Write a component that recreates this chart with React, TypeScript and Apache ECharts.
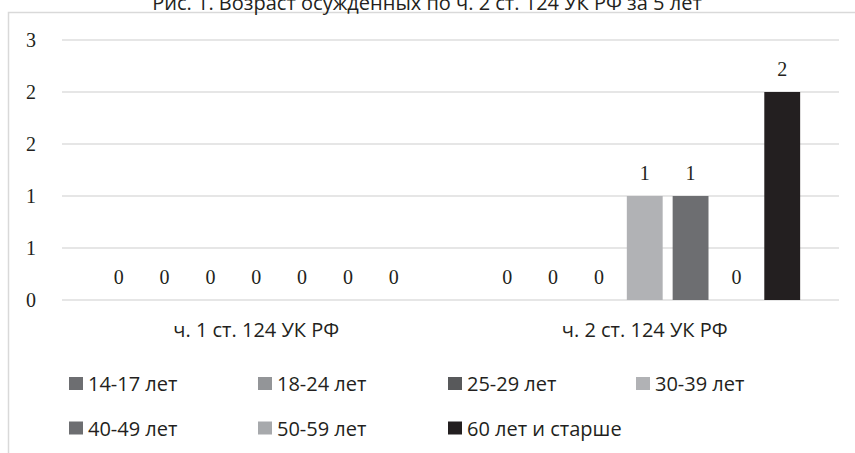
import React, { useEffect, useRef } from "react";
import * as echarts from "echarts";

const TITLE = "Рис. 1. Возраст осужденных по ч. 2 ст. 124 УК РФ за 5 лет";
const categories = ["ч. 1 ст. 124 УК РФ", "ч. 2 ст. 124 УК РФ"];
const seriesNames = [
  "14-17 лет",
  "18-24 лет",
  "25-29 лет",
  "30-39 лет",
  "40-49 лет",
  "50-59 лет",
  "60 лет и старше",
];
const s14_17 = [0, 0];
const s18_24 = [0, 0];
const s25_29 = [0, 0];
const s30_39 = [0, 1];
const s40_49 = [0, 1];
const s50_59 = [0, 0];
const s60plus = [0, 2];
const seriesValues = [s14_17, s18_24, s25_29, s30_39, s40_49, s50_59, s60plus];
const colors = ["#6d6e71", "#939598", "#58595b", "#b1b2b5", "#6d6e71", "#a7a9ac", "#231f20"];
const yMin = 0;
const yMax = 2.5;
const yInterval = 0.5;

const legendPos = [
  [69, 373.5],
  [258, 373.5],
  [448, 373.5],
  [636, 373.5],
  [69, 418],
  [258, 418],
  [448, 418],
];

const SANS = "'Open Sans', 'Noto Sans', sans-serif";
const SERIF = "'Liberation Serif', 'DejaVu Serif', serif";
const TEXT = "#231f20";

export default function App() {
  const ref = useRef<HTMLDivElement>(null);
  useEffect(() => {
    if (!ref.current) return;
    const chart = echarts.init(ref.current, undefined, { renderer: "svg" });
    chart.setOption({
      animation: false,
      backgroundColor: "#ffffff",
      graphic: [
        {
          type: "rect",
          shape: { x: 8.5, y: 12.5, width: 900, height: 500 },
          style: { fill: "none", stroke: "#d9d9d9", lineWidth: 1.5 },
          silent: true,
          z: 0,
        },
        {
          type: "text",
          x: 427,
          y: 12,
          style: {
            text: TITLE,
            font: `20px ${SANS}`,
            fill: TEXT,
            align: "center",
            verticalAlign: "bottom",
          },
        },
      ],
      legend: seriesNames.map((name, i) => ({
        data: [name],
        left: legendPos[i][0],
        top: legendPos[i][1],
        itemWidth: 14,
        itemHeight: 13,
        icon: "rect",
        padding: 0,
        selectedMode: false,
        textStyle: { fontFamily: SANS, fontSize: 20, color: TEXT },
      })),
      grid: { left: 62, right: 16, top: 40, bottom: 153, containLabel: false },
      xAxis: {
        type: "category",
        data: categories,
        axisLine: { show: false },
        axisTick: { show: false },
        axisLabel: { fontFamily: SANS, fontSize: 20, color: TEXT, margin: 19 },
      },
      yAxis: {
        type: "value",
        min: yMin,
        max: yMax,
        interval: yInterval,
        axisLine: { show: false },
        axisTick: { show: false },
        splitLine: { lineStyle: { color: "#dedede", width: 1.5 } },
        axisLabel: {
          fontFamily: SERIF,
          fontSize: 20,
          color: TEXT,
          margin: 26,
          formatter: (v: number) => String(Math.round(v)),
        },
      },
      series: seriesNames.map((name, i) => ({
        name,
        type: "bar",
        data: seriesValues[i],
        barGap: "27.8%",
        barCategoryGap: "20%",
        itemStyle: { color: colors[i] },
        label: {
          show: true,
          position: "top",
          distance: 13,
          fontFamily: SERIF,
          fontSize: 20,
          color: TEXT,
        },
      })),
    });
    return () => chart.dispose();
  }, []);
  return (
    <div
      ref={ref}
      style={{ position: "fixed", left: 0, top: 0, width: 855, height: 453 }}
    />
  );
}
